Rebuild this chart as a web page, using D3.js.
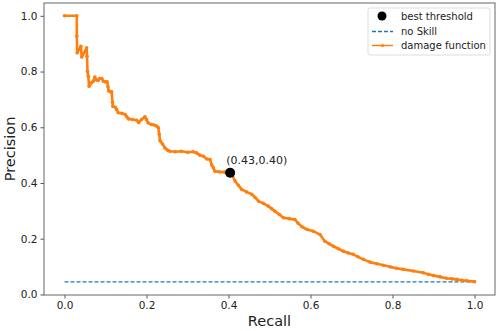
<!DOCTYPE html>
<html>
<head>
<meta charset="utf-8">
<script src="https://cdn.jsdelivr.net/npm/d3@7"></script>
<style>
  body { margin: 0; background: #fff; }
  svg { display: block; font-family: "DejaVu Sans", sans-serif; }
</style>
</head>
<body>
<div id="chart"></div>
<script>
const w = 500;
const h = 331;

const margin = { left: 44, right: 5, top: 3, bottom: 36 };

// precision-recall curve
const recall = [
    0.000, 0.030, 0.030, 0.031, 0.040, 0.042, 0.054, 0.055, 0.056, 0.058,
    0.060, 0.066, 0.070, 0.074, 0.078, 0.082, 0.086, 0.091, 0.095, 0.099,
    0.104, 0.106, 0.108, 0.113, 0.115, 0.117, 0.118, 0.124, 0.127, 0.131,
    0.140, 0.148, 0.152, 0.156, 0.166, 0.176, 0.181, 0.188, 0.196, 0.200,
    0.204, 0.212, 0.218, 0.225, 0.229, 0.231, 0.233, 0.239, 0.245, 0.251,
    0.257, 0.270, 0.285, 0.300, 0.314, 0.322, 0.330, 0.339, 0.347, 0.355,
    0.359, 0.363, 0.367, 0.378, 0.391, 0.404, 0.410, 0.416, 0.424, 0.432,
    0.444, 0.457, 0.465, 0.473, 0.485, 0.497, 0.505, 0.513, 0.524, 0.534,
    0.548, 0.562, 0.570, 0.579, 0.592, 0.607, 0.623, 0.635, 0.645, 0.656,
    0.668, 0.680, 0.692, 0.704, 0.716, 0.729, 0.745, 0.762, 0.778, 0.794,
    0.810, 0.826, 0.851, 0.875, 0.888, 0.900, 0.916, 0.932, 0.945, 0.957,
    0.970, 0.981, 1.000
];
const precision = [
    1.000, 1.000, 0.927, 0.867, 0.891, 0.852, 0.885, 0.855, 0.801, 0.783,
    0.747, 0.760, 0.765, 0.780, 0.770, 0.768, 0.775, 0.775, 0.765, 0.763,
    0.763, 0.745, 0.730, 0.727, 0.727, 0.690, 0.675, 0.672, 0.664, 0.652,
    0.650, 0.646, 0.638, 0.630, 0.628, 0.625, 0.617, 0.628, 0.638, 0.628,
    0.616, 0.610, 0.608, 0.604, 0.598, 0.575, 0.552, 0.540, 0.526, 0.518,
    0.514, 0.512, 0.514, 0.510, 0.512, 0.508, 0.500, 0.496, 0.486, 0.484,
    0.465, 0.455, 0.442, 0.440, 0.439, 0.437, 0.425, 0.407, 0.392, 0.377,
    0.368, 0.359, 0.348, 0.335, 0.327, 0.317, 0.308, 0.299, 0.287, 0.275,
    0.272, 0.269, 0.255, 0.243, 0.233, 0.227, 0.215, 0.191, 0.182, 0.173,
    0.164, 0.155, 0.149, 0.144, 0.135, 0.126, 0.116, 0.110, 0.105, 0.099,
    0.094, 0.090, 0.084, 0.078, 0.072, 0.068, 0.063, 0.058, 0.056, 0.054,
    0.051, 0.049, 0.046
];

const noSkill = 0.045;
const bestRecall = 0.404;
const bestPrecision = 0.437;
const bestLabel = "(0.43,0.40)";

const ticks = [0.0, 0.2, 0.4, 0.6, 0.8, 1.0];
const legendLabels = ["best threshold", "no Skill", "damage function"];

const orange = "#ff7f0e";
const blue = "#1f77b4";

const width = w - margin.left - margin.right;
const height = h - margin.top - margin.bottom;

const svg = d3.select("#chart")
    .append("svg")
    .attr("width", w)
    .attr("height", h);

const g = svg.append("g")
    .attr("transform", "translate(" + margin.left + "," + margin.top + ")");

const x = d3.scaleLinear().domain([-0.05, 1.05]).range([0, width]);
const y = d3.scaleLinear().domain([-0.002, 1.046]).range([height, 0]);

// axes
const xAxis = g.append("g")
    .attr("transform", "translate(0," + height + ")")
    .call(d3.axisBottom(x).tickValues(ticks).tickFormat(d3.format(".1f")).tickSize(3.5).tickPadding(3));
const yAxis = g.append("g")
    .call(d3.axisLeft(y).tickValues(ticks).tickFormat(d3.format(".1f")).tickSize(3.5).tickPadding(3));

[xAxis, yAxis].forEach(a => {
    a.select(".domain").remove();
    a.selectAll("line").attr("stroke", "#555");
    a.selectAll("text")
        .attr("fill", "#222")
        .style("font-size", "10.5px")
        .style("font-family", "DejaVu Sans");
});

// frame
g.append("rect")
    .attr("width", width)
    .attr("height", height)
    .attr("fill", "none")
    .attr("stroke", "#666")
    .attr("stroke-width", 1);

// no skill line
g.append("line")
    .attr("x1", x(0)).attr("x2", x(1))
    .attr("y1", y(noSkill)).attr("y2", y(noSkill))
    .attr("stroke", blue)
    .attr("stroke-width", 1.3)
    .attr("stroke-dasharray", "4,2");

// curve
const pts = recall.map((r, i) => [r, precision[i]]);
const line = d3.line().x(d => x(d[0])).y(d => y(d[1]));

g.append("path")
    .datum(pts)
    .attr("fill", "none")
    .attr("stroke", orange)
    .attr("stroke-width", 2.6)
    .attr("stroke-linejoin", "round")
    .attr("d", line);

g.selectAll(".dot")
    .data(pts)
    .enter()
    .append("circle")
    .attr("class", "dot")
    .attr("cx", d => x(d[0]))
    .attr("cy", d => y(d[1]))
    .attr("r", 1.8)
    .attr("fill", orange);

// best threshold
g.append("circle")
    .attr("cx", x(bestRecall))
    .attr("cy", y(bestPrecision))
    .attr("r", 5)
    .attr("fill", "#000");

g.append("text")
    .attr("x", x(bestRecall) - 4)
    .attr("y", y(bestPrecision) - 9)
    .style("font-size", "11px")
    .attr("fill", "#222")
    .text(bestLabel);

// axis labels
svg.append("text")
    .attr("x", margin.left + width / 2)
    .attr("y", 326)
    .attr("text-anchor", "middle")
    .style("font-size", "14.5px")
    .attr("fill", "#222")
    .text("Recall");

svg.append("text")
    .attr("transform", "translate(15," + (margin.top + height / 2) + ") rotate(-90)")
    .attr("text-anchor", "middle")
    .style("font-size", "14.5px")
    .attr("fill", "#222")
    .text("Precision");

// legend
const lg = svg.append("g").attr("transform", "translate(368,8)");
lg.append("rect")
    .attr("width", 122)
    .attr("height", 47)
    .attr("rx", 2)
    .attr("fill", "#fff")
    .attr("fill-opacity", 0.8)
    .attr("stroke", "#ddd");

const rowY = [8, 23.5, 37.5];
lg.append("circle").attr("cx", 14).attr("cy", rowY[0]).attr("r", 4.5).attr("fill", "#000");
lg.append("line").attr("x1", 4).attr("x2", 25).attr("y1", rowY[1]).attr("y2", rowY[1])
    .attr("stroke", blue).attr("stroke-width", 1.3).attr("stroke-dasharray", "4,2");
lg.append("line").attr("x1", 4).attr("x2", 25).attr("y1", rowY[2]).attr("y2", rowY[2])
    .attr("stroke", orange).attr("stroke-width", 1.5);
lg.append("circle").attr("cx", 14.5).attr("cy", rowY[2]).attr("r", 1.6).attr("fill", orange);

lg.selectAll(".lab")
    .data(legendLabels)
    .enter()
    .append("text")
    .attr("class", "lab")
    .attr("x", 33)
    .attr("y", (d, i) => rowY[i])
    .attr("dy", "0.35em")
    .style("font-size", "10px")
    .attr("fill", "#222")
    .text(d => d);
</script>
</body>
</html>
